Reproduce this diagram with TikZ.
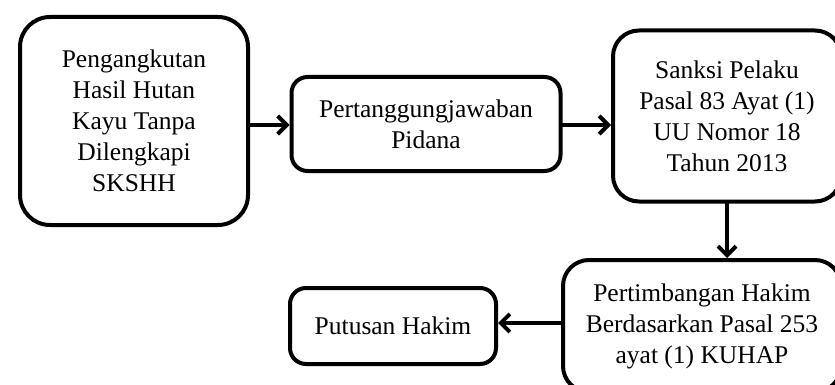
\documentclass[tikz,border=0pt]{standalone}
\usepackage{fontspec}
\setmainfont{Liberation Serif}
\usetikzlibrary{arrows.meta}
\begin{document}
\begin{tikzpicture}[x=1pt,y=-1pt,line join=round,line cap=round,
	kotak/.style={draw,line width=4pt,align=center,inner sep=0pt,
		font=\fontsize{25.5}{31}\selectfont},
	panah/.style={line width=4pt,-{Straight Barb[length=9pt,width=18pt,line width=4pt]}}]
	\useasboundingbox (0,0) rectangle (835,385);
	\clip (0,0) rectangle (835,385);
	\node[kotak,rounded corners=30pt,minimum width=228,minimum height=208] (hutan) at (134,121)
		{Pengangkutan\\Hasil Hutan\\Kayu Tanpa\\Dilengkapi\\SKSHH};
	\node[kotak,rounded corners=16pt,minimum width=269,minimum height=94] (pidana) at (426,124)
		{Pertanggungjawaban\\Pidana};
	\node[kotak,rounded corners=26pt,minimum width=228,minimum height=171] (sanksi) at (727,116)
		{Sanksi Pelaku\\Pasal 83 Ayat (1)\\UU Nomor 18\\Tahun 2013};
	\node[kotak,rounded corners=26pt,minimum width=278,minimum height=132] (timbang) at (702,326)
		{Pertimbangan Hakim\\Berdasarkan Pasal 253\\ayat (1) KUHAP};
	\node[kotak,rounded corners=16pt,minimum width=206,minimum height=76] (putusan) at (393,326)
		{Putusan Hakim};
	\draw[panah] (hutan.east |- 0,125) -- (pidana.west |- 0,125);
	\draw[panah] (pidana.east |- 0,125) -- (sanksi.west |- 0,125);
	\draw[panah] (sanksi.south) -- (sanksi.south |- timbang.north);
	\draw[panah] (timbang.west |- 0,323) -- (putusan.east |- 0,323);
\end{tikzpicture}
\end{document}
